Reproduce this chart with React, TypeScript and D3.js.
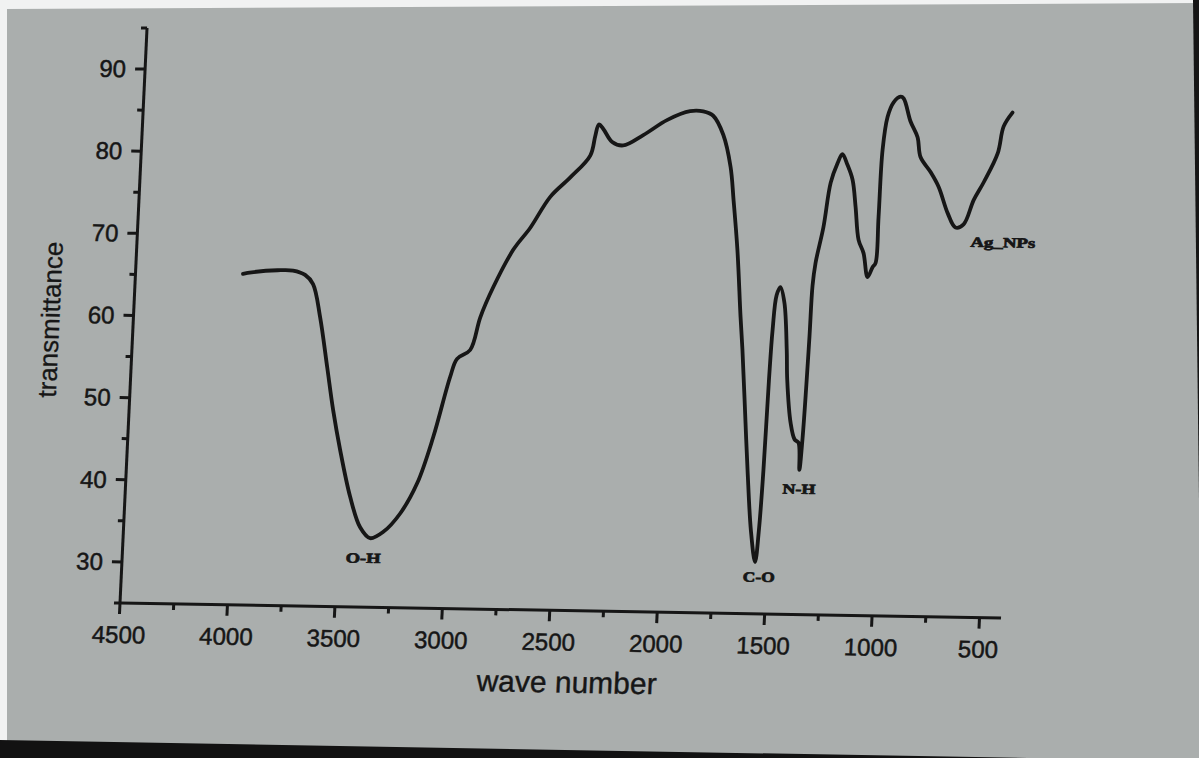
import React from 'react';
import * as d3 from 'd3';

// FTIR spectrum of the silver nanoparticle sample
const waveNumber = [
  4000, 3960, 3840, 3768, 3711, 3672, 3632, 3588, 3551, 3510, 3453, 3400, 3351, 3291, 3216, 3144,
  3080, 3014, 2986, 2927, 2887, 2833, 2748, 2674, 2588, 2499, 2411, 2392, 2378, 2357, 2312, 2260,
  2169, 2060, 1956, 1895, 1848, 1797, 1756, 1735, 1706, 1677, 1661, 1640, 1611, 1582, 1556, 1545,
  1537, 1531, 1525, 1514, 1498, 1476, 1455, 1446, 1421, 1399, 1380, 1370, 1362, 1356, 1352, 1349,
  1340, 1311, 1287, 1259, 1239, 1213, 1186, 1166, 1145, 1119, 1095, 1074, 1061, 1057, 1053, 1037,
  1012, 981, 966, 929, 893, 875, 825, 784, 736, 697, 660, 618, 575, 517, 495, 457,
];
const transmittance = [
  65.3, 65.5, 65.8, 65.8, 65.3, 64.2, 60.2, 54.1, 48.9, 44.1, 38.4, 34.7, 33.4, 34.2, 36.5, 40.2,
  45.8, 53.2, 55.4, 56.5, 60.5, 64.2, 68.8, 71.5, 75.3, 77.7, 80.4, 82.8, 84.2, 83.7, 82.1, 81.7,
  83.0, 84.9, 86.0, 86.0, 85.5, 83.2, 79.3, 75.3, 69.2, 61.1, 57.1, 51.0, 42.5, 35.1, 31.3, 35.2,
  42.5, 53.5, 59.6, 63.8, 64.8, 62.9, 57.2, 53.5, 48.3, 46.3, 45.9, 42.6, 46.5, 53.0, 59.0, 65.0,
  67.8, 72.2, 77.6, 80.0, 81.1, 79.8, 78.0, 74.7, 70.7, 69.1, 66.2, 67.4, 67.9, 73.5, 81.7, 85.7,
  87.5, 88.2, 88.0, 85.2, 83.3, 80.9, 79.1, 77.3, 74.1, 72.4, 72.8, 75.8, 78.0, 81.5, 84.8, 86.5,
];

const xTickValues = [4500, 4000, 3500, 3000, 2500, 2000, 1500, 1000, 500];
const xMinorValues = [4250, 3750, 3250, 2750, 2250, 1750, 1250, 750];
const yTickValues = [30, 40, 50, 60, 70, 80, 90];
const yMinorValues = [25, 35, 45, 55, 65, 75, 85, 95];

// band assignments written next to the absorption minima
const bandLabels = ['O-H', 'C-O', 'N-H', 'Ag_NPs'];
const bandWave = [3379, 1535, 1368, 473];
const bandT = [30.4, 28.9, 39.7, 70.1];
const bandWidths = [35, 32, 33, 65];

const W = 881;
const H = 575;
const ink = '#161616';

export default function App() {
  const x = d3.scaleLinear().domain([4500, 400]).range([0, W]);
  const y = d3.scaleLinear().domain([25, 95]).range([0, -H]);

  const points: [number, number][] = waveNumber.map((w, i) => [w, transmittance[i]]);
  const line = d3
    .line<[number, number]>()
    .x((d) => x(d[0]))
    .y((d) => y(d[1]))
    .curve(d3.curveCatmullRom.alpha(0.5));

  const sans = '"Liberation Sans", Arial, sans-serif';

  return (
    <svg
      width={1199}
      height={758}
      style={{ position: 'absolute', left: 0, top: 0 }}
      xmlns="http://www.w3.org/2000/svg"
    >
      <rect x={0} y={0} width={1199} height={758} fill="#f1f2f2" />
      <polygon points="7,9 1199,3 1199,758 7,758" fill="#aaaead" />
      <polygon points="0,740 1199,761 1199,758 0,758" fill="#121212" />
      <polygon points="1193,0 1199,0 1199,500" fill="#151515" />

      <g transform="matrix(1, 0.017, -0.047, 1, 120, 603)">
        {/* axes */}
        <line x1={0} y1={0} x2={0} y2={-H} stroke={ink} strokeWidth={3} />
        <line x1={0} y1={0} x2={W} y2={0} stroke={ink} strokeWidth={3} />

        {yTickValues.map((v) => (
          <g key={'yt' + v}>
            <line x1={0} x2={-10} y1={y(v)} y2={y(v)} stroke={ink} strokeWidth={3} />
            <text
              x={-19}
              y={y(v)}
              dy="0.35em"
              textAnchor="end"
              fontFamily={sans}
              fontSize={24}
              fill={ink}
              stroke={ink}
              strokeWidth={0.5}
            >
              {v}
            </text>
          </g>
        ))}
        {yMinorValues.map((v) => (
          <line key={'ym' + v} x1={0} x2={-6} y1={y(v)} y2={y(v)} stroke={ink} strokeWidth={3} />
        ))}

        {xTickValues.map((v) => (
          <g key={'xt' + v}>
            <line x1={x(v)} x2={x(v)} y1={0} y2={11} stroke={ink} strokeWidth={3} />
            <text
              x={x(v)}
              y={40}
              textAnchor="middle"
              fontFamily={sans}
              fontSize={24}
              fill={ink}
              stroke={ink}
              strokeWidth={0.5}
            >
              {v}
            </text>
          </g>
        ))}
        {xMinorValues.map((v) => (
          <line key={'xm' + v} x1={x(v)} x2={x(v)} y1={0} y2={6} stroke={ink} strokeWidth={3} />
        ))}

        <text
          x={450}
          y={82}
          textAnchor="middle"
          fontFamily={sans}
          fontSize={30}
          fill={ink}
          stroke={ink}
          strokeWidth={0.4}
        >
          wave number
        </text>
        <text
          transform="translate(-83,-282) rotate(-90)"
          textAnchor="middle"
          dy="0.35em"
          fontFamily={sans}
          fontSize={26}
          fill={ink}
          stroke={ink}
          strokeWidth={0.3}
        >
          transmittance
        </text>

        <path
          d={line(points) || ''}
          fill="none"
          stroke={ink}
          strokeWidth={3.8}
          strokeLinejoin="round"
          strokeLinecap="round"
        />

        {bandLabels.map((t, i) => (
          <text
            key={t}
            x={x(bandWave[i])}
            y={y(bandT[i])}
            textAnchor="middle"
            fontFamily='"Liberation Serif", "Times New Roman", serif'
            fontWeight="bold"
            fontSize={14}
            textLength={bandWidths[i]}
            lengthAdjust="spacingAndGlyphs"
            fill={ink}
            stroke={ink}
            strokeWidth={0.7}
          >
            {t}
          </text>
        ))}
      </g>
    </svg>
  );
}
